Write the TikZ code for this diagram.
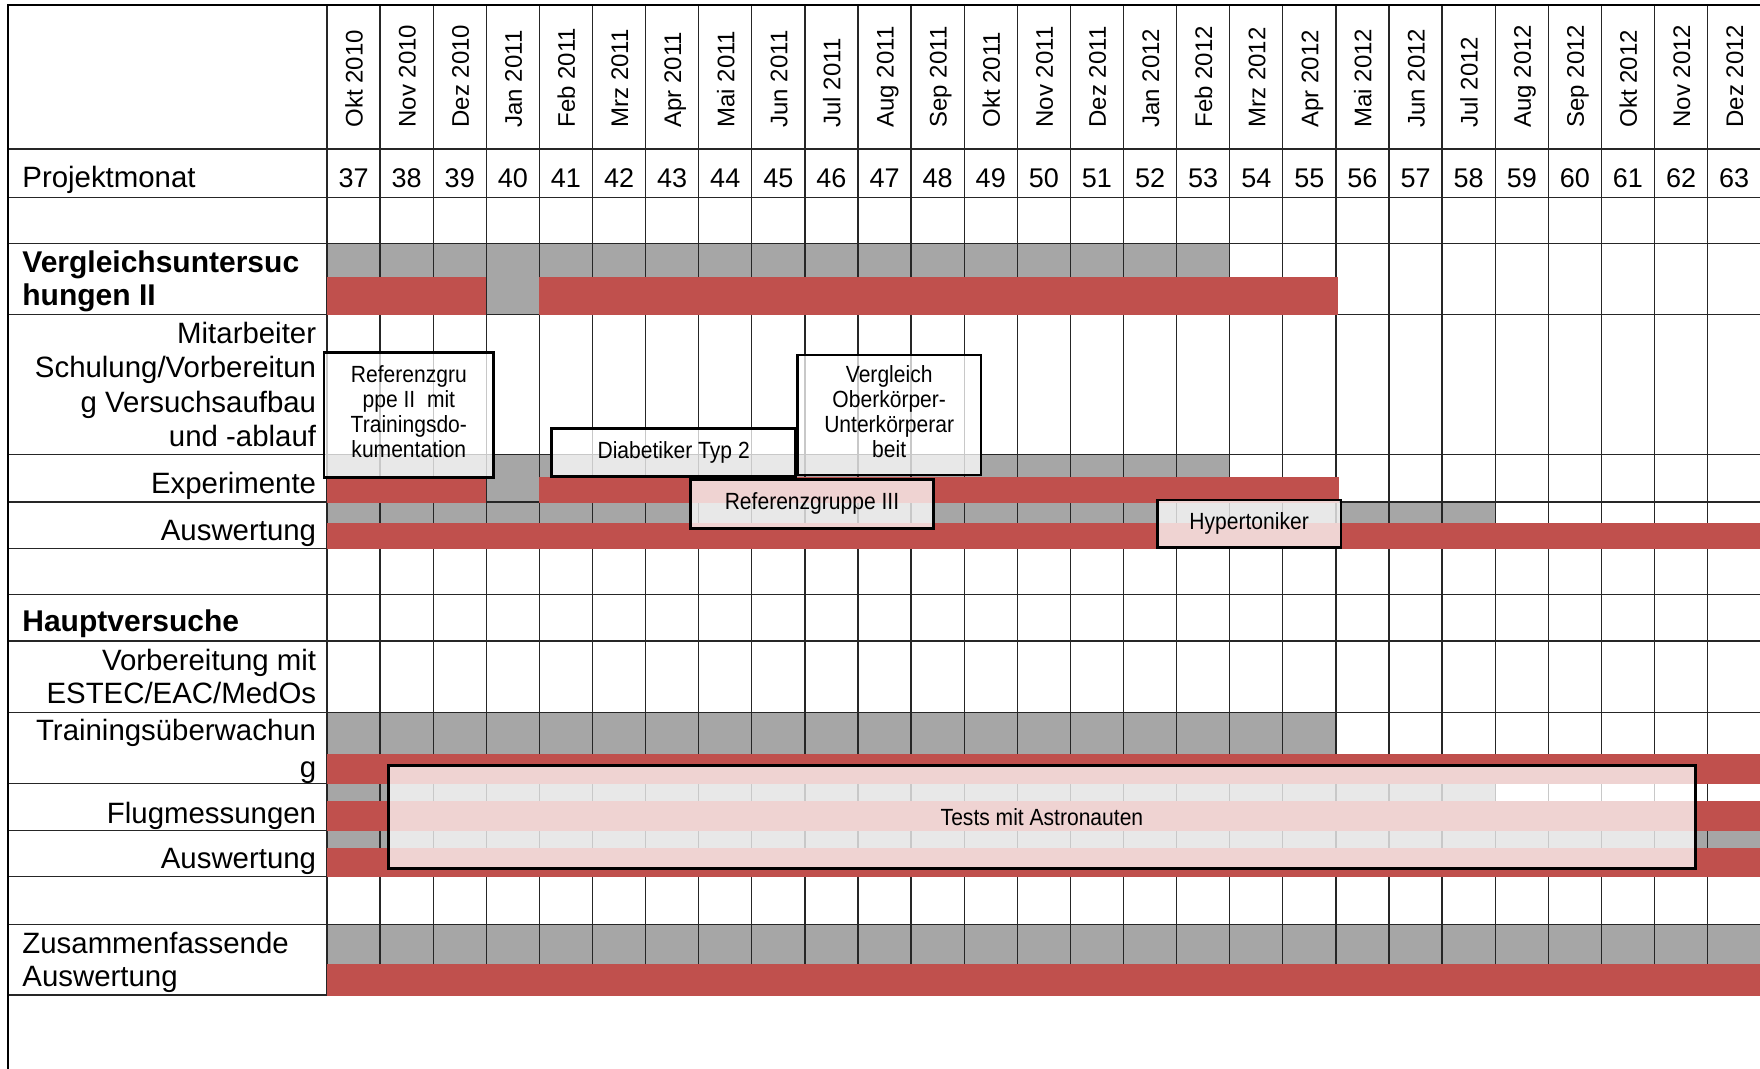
\documentclass[tikz,border=0pt]{standalone}
\usepackage{fontspec}
\setmainfont{Liberation Sans}
\newfontfamily\boxfont[FakeStretch=0.9]{Liberation Sans}
\definecolor{cellgray}{HTML}{A6A6A6}
\definecolor{barred}{HTML}{C0504D}
\newcommand\mlines[2]{\begin{tabular}[t]{@{}#1@{}}#2\end{tabular}}
\newcommand\clines[1]{\begin{tabular}{@{}c@{}}#1\end{tabular}}
\begin{document}
\begin{tikzpicture}[x=0.5pt,y=-0.5pt,
  grayfill/.style={fill=cellgray},
  redbar/.style={fill=barred},
  gridline/.style={line width=0.65pt, draw=black!85},
  frameline/.style={line width=1.3pt, draw=black},
  callout/.style={draw=black, line width=1.3pt, fill=white, fill opacity=0.75, draw opacity=1, text opacity=1, inner sep=0pt,
    anchor=center, font=\boxfont\fontsize{11.7}{12.6}\selectfont},
  lab/.style={inner sep=0pt, font=\fontsize{14.7}{17.2}\selectfont},
  boldlab/.style={inner sep=0pt, font=\bfseries\fontsize{15}{16.2}\selectfont},
  monthlab/.style={inner sep=0pt, rotate=90, font=\fontsize{12}{14}\selectfont},
  numlab/.style={inner sep=0pt, font=\fontsize{13.5}{16}\selectfont}]
\useasboundingbox (0,0) rectangle (1760,1069);
\fill[white] (0,0) rectangle (1760,1069);

% gray cells
\fill[grayfill] (327,243.3) rectangle (1229.7,314.3);
\fill[grayfill] (327,454.3) rectangle (1229.7,502);
\fill[grayfill] (327,502) rectangle (1495.2,548.7);
\fill[grayfill] (327,712.7) rectangle (1335.9,783.3);
\fill[grayfill] (327,783.3) rectangle (1495.2,830.7);
\fill[grayfill] (327,830.7) rectangle (1760,876.7);
\fill[grayfill] (327,924.3) rectangle (1760,995);

% grid
\foreach \y in {149,197.3,243.3,314.3,454.3,502,548.7,594.7,641,712.7,783.3,830.7,876.7,924.3}
  \draw[gridline] (8,\y) -- (1760,\y);
\draw[gridline] (8,995) -- (327,995);
\foreach \i in {0,...,26}
  \draw[gridline] ({327+53.1*\i},5) -- ({327+53.1*\i},995);

% red bars
\fill[redbar] (327,276.7) rectangle (486.3,315);
\fill[redbar] (539.4,276.7) rectangle (1338,315);
\fill[redbar] (327,476.7) rectangle (486.3,502.5);
\fill[redbar] (539.4,476.7) rectangle (1339,502.5);
\fill[redbar] (327,522.7) rectangle (1760,549.3);
\fill[redbar] (327,754.3) rectangle (1760,783.8);
\fill[redbar] (327,800.7) rectangle (1760,831.2);
\fill[redbar] (327,848.3) rectangle (1760,877.3);
\fill[redbar] (327,964.3) rectangle (1760,995.6);

% header months and project month numbers
\foreach \m [count=\i from 0] in {Okt 2010, Nov 2010, Dez 2010, Jan 2011, Feb 2011, Mrz 2011, Apr 2011, Mai 2011, Jun 2011, Jul 2011, Aug 2011, Sep 2011, Okt 2011, Nov 2011, Dez 2011, Jan 2012, Feb 2012, Mrz 2012, Apr 2012, Mai 2012, Jun 2012, Jul 2012, Aug 2012, Sep 2012, Okt 2012, Nov 2012, Dez 2012}{
  \pgfmathsetmacro\cx{327+53.1*(\i+0.5)}
  \pgfmathtruncatemacro\num{37+\i}
  \node[monthlab, anchor=base west] (m\i) at (\cx+9,128) {\m};
  \node[numlab, anchor=base] (n\i) at (\cx,188) {\num};
}

% row labels
\node[lab, anchor=base west] (projekt) at (22,188) {Projektmonat};
\node[boldlab, anchor=base west] (vergl) at (22,272.7) {\mlines{l}{Vergleichsuntersuc\\hungen II}};
\node[lab, anchor=base east] (mitarb) at (316.5,343.3) {\mlines{r}{Mitarbeiter\\Schulung/Vorbereitun\\g Versuchsaufbau\\und -ablauf}};
\node[lab, anchor=base east] (exper) at (316.5,493.3) {Experimente};
\node[lab, anchor=base east] (ausw1) at (316.5,540) {Auswertung};
\node[boldlab, anchor=base west] (haupt) at (22,631.7) {Hauptversuche};
\node[lab, anchor=base east, font=\fontsize{14.7}{16.7}\selectfont] (vorb) at (316.5,670) {\mlines{r}{Vorbereitung mit\\ESTEC/EAC/MedOs}};
\node[lab, anchor=base east, font=\fontsize{14.7}{18.5}\selectfont] (train) at (316.5,740) {\mlines{r}{Trainingsüberwachun\\g}};
\node[lab, anchor=base east] (flug) at (316.5,823.3) {Flugmessungen};
\node[lab, anchor=base east] (ausw2) at (316.5,868.3) {Auswertung};
\node[lab, anchor=base west, font=\fontsize{14.7}{16.7}\selectfont] (zus) at (22,953.3) {\mlines{l}{Zusammenfassende\\Auswertung}};

% callout boxes
\node[callout, minimum width=84.85pt, minimum height=62.5pt] (b1) at (408.85,415) {\clines{Referenzgru\\ppe II\ \ mit\\Trainingsdo-\\kumentation}};
\node[callout, minimum width=121.95pt, minimum height=24.2pt] (b2) at (673.65,452.5) {Diabetiker Typ 2};
\node[callout, minimum width=91.8pt, minimum height=60pt] (b3) at (889.2,415) {\clines{Vergleich\\Oberkörper-\\Unterkörperar\\beit}};
\node[callout, minimum width=121.4pt, minimum height=24.5pt] (b4) at (812,503.8) {Referenzgruppe III};
\node[callout, minimum width=91.85pt, minimum height=23.65pt] (b5) at (1249.15,523.65) {Hypertoniker};
\node[callout, minimum width=653.55pt, minimum height=51.5pt] (b6) at (1041.95,817.2) {Tests mit Astronauten};

% frame
\draw[frameline] (8,1069) -- (8,5) -- (1760,5);
\end{tikzpicture}
\end{document}
